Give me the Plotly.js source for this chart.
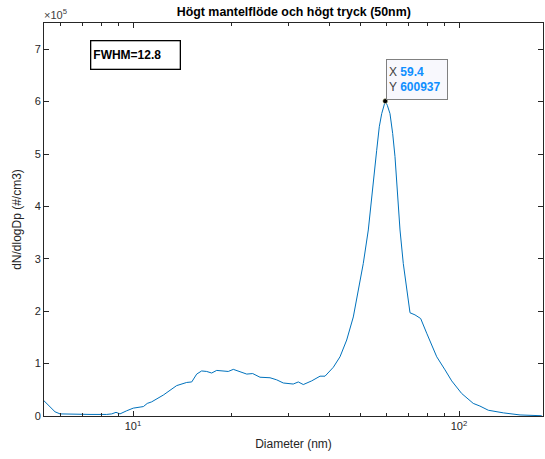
<!DOCTYPE html>
<html>
<head>
<meta charset="utf-8">
<script src="https://cdn.plot.ly/plotly-3.0.1.min.js"></script>
<style>html,body{margin:0;padding:0;background:#fff;}#chart{width:545px;height:459px;}</style>
</head>
<body>
<div id="chart"></div>
<script>
// Diameter (nm)
const diameter = [5.333, 5.565, 5.765, 5.973, 6.561, 7.381, 8.304, 8.604, 8.868, 9.123, 9.565, 10.02, 10.51, 10.76, 11.06, 11.41, 12.39, 13.61, 14.61, 15.14, 15.68, 16.24, 16.83, 17.43, 18.06, 18.92, 19.60, 20.31, 21.29, 22.33, 23.29, 24.52, 26.32, 27.59, 28.91, 31.01, 32.14, 33.30, 35.33, 37.47, 38.82, 41.16, 43.15, 45.24, 47.40, 49.10, 50.86, 52.70, 53.98, 54.98, 55.91, 56.95, 57.93, 59.4, 60.27, 61.42, 62.60, 63.63, 64.67, 65.92, 67.47, 69.12, 70.75, 73.28, 76.29, 79.60, 85.44, 90.60, 94.97, 101.9, 110.6, 115.9, 123.0, 136.8, 153.9, 179.4];
// dN/dlogDp (#/cm3)
const concentration = [29000, 17000, 8000, 4000, 3000, 3000, 3000, 4000, 7000, 4000, 10000, 15000, 17000, 18000, 24000, 27000, 40000, 58000, 64000, 65000, 80000, 86000, 85000, 82000, 87000, 86000, 85000, 89000, 85000, 80000, 81000, 74000, 73000, 69000, 63000, 61000, 65000, 60000, 67000, 76000, 76000, 93000, 113000, 145000, 189000, 240000, 291000, 355000, 412000, 463000, 507000, 552000, 577000, 600937, 593000, 577000, 539000, 495000, 431000, 355000, 291000, 240000, 197000, 193000, 186000, 158000, 113000, 88000, 67000, 43000, 24000, 19000, 11000, 6000, 2000, 500];
const peakX = [59.4];
const peakY = [600937];
const yTickVals = [0, 100000, 200000, 300000, 400000, 500000, 600000, 700000];
const yTickText = ['0', '1', '2', '3', '4', '5', '6', '7'];
const xTickVals = [10, 100];
const xTickText = ['10<sup>1</sup>', '10<sup>2</sup>'];
const xMinorVals = [6, 7, 8, 9, 20, 30, 40, 50, 60, 70, 80, 90];
const titleText = 'Högt mantelflöde och högt tryck (50nm)';
const fwhmText = 'FWHM=12.8';

const axisColor = '#262626';
const fontFam = 'Liberation Sans, Arial, Helvetica, sans-serif';

const traces = [
  {x: diameter, y: concentration, type: 'scatter', mode: 'lines',
   line: {color: '#0072BD', width: 1}, hoverinfo: 'skip'},
  {x: peakX, y: peakY, type: 'scatter', mode: 'markers',
   marker: {color: '#000', size: 5, line: {color: '#ffffcc', width: 0.5}}, hoverinfo: 'skip'}
];

const layout = {
  width: 545, height: 459,
  margin: {l: 44, r: 2, t: 23, b: 43},
  paper_bgcolor: '#fff', plot_bgcolor: '#fff',
  showlegend: false,
  font: {family: fontFam, size: 11, color: axisColor},
  title: {text: '<b>' + titleText + '</b>', x: 0.539, xanchor: 'center', y: 0.983, yanchor: 'top',
          font: {size: 12.4, color: '#000', family: fontFam}},
  xaxis: {
    type: 'log', range: [Math.log10(5.333), Math.log10(181)],
    tickmode: 'array', tickvals: xTickVals, ticktext: xTickText,
    ticks: 'inside', ticklen: 5, tickwidth: 1, tickcolor: axisColor,
    minor: {tickmode: 'array', tickvals: xMinorVals, ticks: 'inside', ticklen: 3, tickcolor: axisColor, showgrid: false},
    showline: true, linecolor: axisColor, linewidth: 1, mirror: 'ticks',
    showgrid: false, zeroline: false,
    tickfont: {size: 11, color: axisColor},
    title: {text: 'Diameter (nm)', font: {size: 12, color: axisColor}, standoff: 8}
  },
  yaxis: {
    range: [0, 750000],
    tickmode: 'array', tickvals: yTickVals, ticktext: yTickText,
    ticks: 'inside', ticklen: 5, tickwidth: 1, tickcolor: axisColor,
    showline: true, linecolor: axisColor, linewidth: 1, mirror: 'ticks',
    showgrid: false, zeroline: false,
    tickfont: {size: 11, color: axisColor},
    title: {text: 'dN/dlogDp (#/cm3)', font: {size: 12, color: axisColor}, standoff: 10}
  },
  annotations: [
    {xref: 'paper', yref: 'paper', x: 0, y: 1, xanchor: 'left', yanchor: 'bottom',
     text: '×10<sup>5</sup>', showarrow: false, font: {size: 11, color: '#404040'}, yshift: 0, xshift: -2},
    {xref: 'paper', yref: 'paper', x: 0.092, y: 0.958, xanchor: 'left', yanchor: 'top',
     text: '<b>' + fwhmText + '</b>', showarrow: false, align: 'left',
     width: 84, height: 23, borderpad: 2, bordercolor: '#000', borderwidth: 1.3, bgcolor: '#fff',
     font: {size: 12, color: '#000'}},
    {xref: 'x', yref: 'y', x: Math.log10(peakX[0]), y: peakY[0], xanchor: 'left', yanchor: 'bottom',
     text: 'X <span style="color:#0f8fff"><b>' + peakX[0] + '</b></span><br>Y <span style="color:#0f8fff"><b>' + peakY[0] + '</b></span>',
     showarrow: false, align: 'left', xshift: 1, yshift: 1,
     width: 56, height: 35, borderpad: 2, bordercolor: '#808080', borderwidth: 1, bgcolor: '#f8f8fd',
     font: {size: 12, color: '#404040'}}
  ]
};

Plotly.newPlot('chart', traces, layout, {staticPlot: true, displayModeBar: false});
</script>
</body>
</html>
